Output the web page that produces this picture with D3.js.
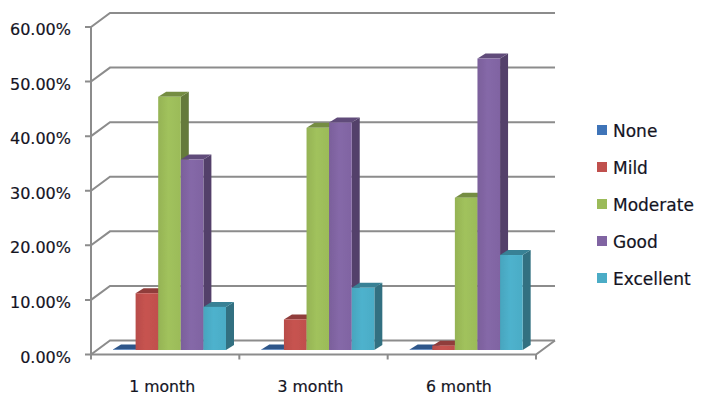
<!DOCTYPE html>
<html>
<head>
<meta charset="utf-8">
<script src="https://d3js.org/d3.v7.min.js"></script>
<style>
body { margin: 0; background: #fff; }
text { font-family: "DejaVu Sans", sans-serif; fill: #14141f; stroke: #14141f; stroke-width: 0.2; }
.wall { fill: none; stroke: #8c8c8c; stroke-width: 2; }
</style>
</head>
<body>
<script>
var categories = ["1 month", "3 month", "6 month"];
var seriesNames = ["None", "Mild", "Moderate", "Good", "Excellent"];
var none = [0.1, 0.1, 0.1];
var mild = [10.4, 5.6, 0.8];
var moderate = [46.4, 40.7, 27.9];
var good = [34.9, 41.7, 53.4];
var excellent = [7.9, 11.4, 17.4];
var yTicks = [0, 10, 20, 30, 40, 50, 60];
var seriesValues = [none, mild, moderate, good, excellent];
var colors = ["#3f74b8", "#c0504d", "#9bbb59", "#8064a2", "#4bacc6"];

var width = 706, height = 405;
var left = 91, right = 536, bottom = 354.5, top_ = 27;
var wallDx = 19, wallDy = 14;   // depth of the chart box
var barDx = 8, barDy = 5;       // depth of one bar
var barLift = 4.5;              // bars stand a little way into the floor

var x = d3.scaleBand().domain(categories).range([left, right]);
var xInner = d3.scaleBand().domain(seriesNames).range([22, 135]);
var y = d3.scaleLinear().domain([0, 60]).range([bottom, top_]);

var svg = d3.select("body").append("svg")
    .attr("width", width)
    .attr("height", height);

var defs = svg.append("defs");
defs.append("filter").attr("id", "soft")
    .append("feGaussianBlur").attr("stdDeviation", 0.45);

colors.forEach(function(c, i) {
    var g = defs.append("linearGradient").attr("id", "front" + i)
        .attr("x1", 0).attr("x2", 1).attr("y1", 0).attr("y2", 0);
    g.append("stop").attr("offset", "0%").attr("stop-color", d3.color(c).darker(0.12));
    g.append("stop").attr("offset", "45%").attr("stop-color", d3.color(c).brighter(0.1));
    g.append("stop").attr("offset", "100%").attr("stop-color", c);
});

var chart = svg.append("g").attr("filter", "url(#soft)");

// gridlines on the side and back walls
chart.selectAll(".grid").data(yTicks).enter().append("path")
    .attr("class", "wall grid")
    .attr("d", function(d) {
        var p = d3.path();
        p.moveTo(left - 6, y(d));
        p.lineTo(left, y(d));
        p.lineTo(left + wallDx, y(d) - wallDy);
        p.lineTo(right + wallDx, y(d) - wallDy);
        return p.toString();
    });

// floor
var floor = d3.path();
floor.moveTo(left, bottom);
floor.lineTo(right, bottom);
floor.lineTo(right + wallDx, bottom - wallDy);
chart.append("path").attr("class", "wall").attr("d", floor.toString());

// left axis line
chart.append("line").attr("class", "wall")
    .attr("x1", left).attr("x2", left)
    .attr("y1", y(60)).attr("y2", bottom + 4);

// ticks between the categories
var edges = categories.map(function(c) { return x(c); }).concat([right]);
chart.selectAll(".xtick").data(edges).enter().append("line")
    .attr("class", "wall xtick")
    .attr("x1", function(d) { return d; })
    .attr("x2", function(d) { return d; })
    .attr("y1", bottom)
    .attr("y2", bottom + 5);

// bars
function poly(pts) { return d3.line()(pts); }

categories.forEach(function(cat, ci) {
    seriesNames.forEach(function(name, si) {
        var v = seriesValues[si][ci];
        var x0 = x(cat) + xInner(name);
        var x1 = x0 + xInner.bandwidth();
        var y0 = y(0) - barLift;
        var y1 = y(v) - barLift;
        var col = d3.color(colors[si]);
        var bar = chart.append("g");
        bar.append("path")
            .attr("d", poly([[x1, y0], [x1 + barDx, y0 - barDy], [x1 + barDx, y1 - barDy], [x1, y1]]) + "Z")
            .attr("fill", col.darker(1.2));
        bar.append("path")
            .attr("d", poly([[x0, y1], [x0 + barDx, y1 - barDy], [x1 + barDx, y1 - barDy], [x1, y1]]) + "Z")
            .attr("fill", col.darker(0.8));
        bar.append("rect")
            .attr("x", x0).attr("y", y1)
            .attr("width", xInner.bandwidth())
            .attr("height", y0 - y1)
            .attr("fill", "url(#front" + si + ")");
    });
});

// axes, only their labels: the lines are drawn above
var yAxis = d3.axisLeft(y).tickValues(yTicks).tickSize(0).tickPadding(0)
    .tickFormat(function(d) { return d.toFixed(2) + "%"; });
var yG = svg.append("g").attr("transform", "translate(71,2.5)").call(yAxis);
yG.select(".domain").remove();
yG.selectAll("text").style("font-size", "16px");

var xAxis = d3.axisBottom(x).tickSize(0).tickPadding(0);
var xG = svg.append("g").attr("transform", "translate(-3,381)").call(xAxis);
xG.select(".domain").remove();
xG.selectAll("text").style("font-size", "15.7px");

// legend
var legendY = d3.scalePoint().domain(seriesNames).range([130, 278]);
var legend = svg.selectAll(".legend").data(seriesNames).enter().append("g")
    .attr("class", "legend")
    .attr("transform", function(d) { return "translate(597," + legendY(d) + ")"; });
legend.append("rect")
    .attr("x", 0).attr("y", -5)
    .attr("width", 10).attr("height", 10)
    .attr("fill", function(d, i) { return colors[i]; });
legend.append("text")
    .attr("x", 16).attr("y", 1.5)
    .attr("dy", "0.32em")
    .style("font-size", "17px")
    .text(function(d) { return d; });
</script>
</body>
</html>
